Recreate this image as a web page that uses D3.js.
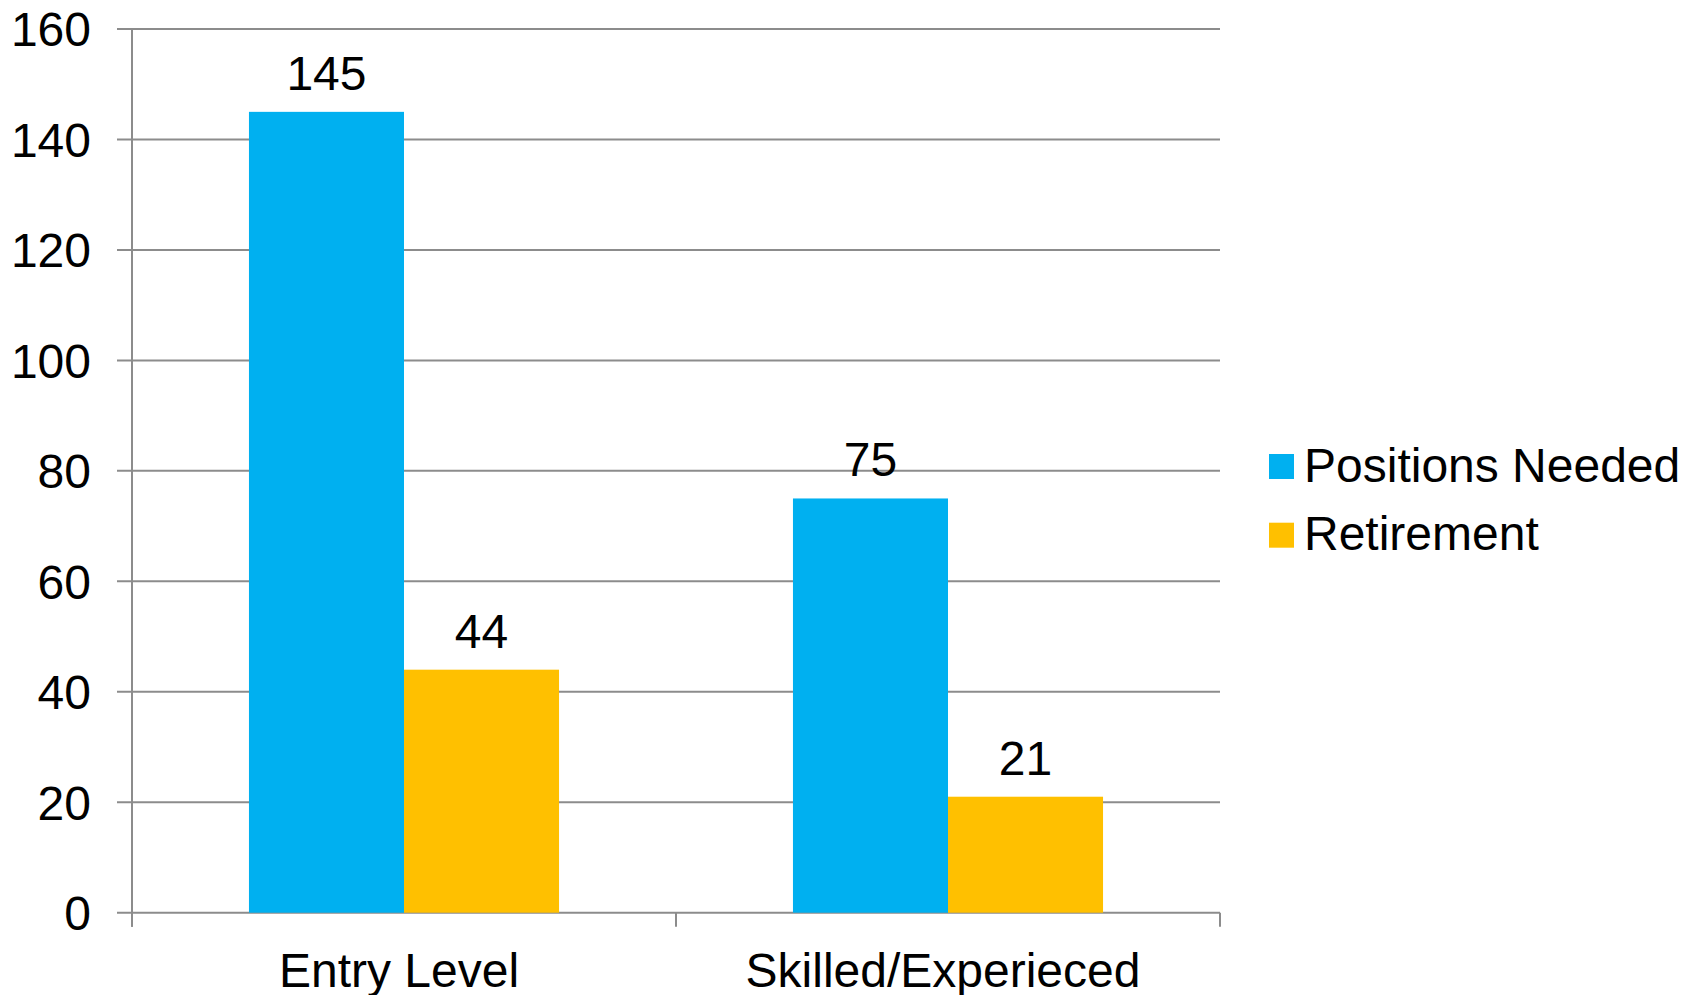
<!DOCTYPE html>
<html>
<head>
<meta charset="utf-8">
<script src="https://cdn.jsdelivr.net/npm/d3@7"></script>
<style>
  html, body { margin: 0; padding: 0; background: #fff; }
  svg { display: block; }
  text { font-family: "Liberation Sans", Arial, sans-serif; fill: #000; }
</style>
</head>
<body>
<svg id="chart" width="1696" height="995"></svg>
<script>
const categories = ["Entry Level", "Skilled/Experieced"];
const seriesNames = ["Positions Needed", "Retirement"];
const positionsNeeded = [145, 75];
const retirement = [44, 21];
const seriesColors = ["#00B0F0", "#FFC000"];
const yTicks = [0, 20, 40, 60, 80, 100, 120, 140, 160];

const seriesValues = [positionsNeeded, retirement];
const data = categories.map((c, i) => ({
  category: c,
  values: seriesNames.map((s, j) => ({ series: s, value: seriesValues[j][i], color: seriesColors[j] }))
}));

const svg = d3.select("#chart");
const plot = { left: 132, right: 1220, top: 29, bottom: 912.7 };
const gridColor = "#8c8c8c";
const fontSize = 48;

const x0 = d3.scaleBand().domain(categories).range([plot.left, plot.right])
  .paddingInner(0.43).paddingOuter(0.215);
const x1 = d3.scaleBand().domain(seriesNames).range([0, x0.bandwidth()]).padding(0);
const y = d3.scaleLinear().domain([0, 160]).range([plot.bottom, plot.top]);

// gridlines
svg.append("g").selectAll("line").data(yTicks).join("line")
  .attr("x1", plot.left - 15).attr("x2", plot.right)
  .attr("y1", d => y(d)).attr("y2", d => y(d))
  .attr("stroke", gridColor).attr("stroke-width", 2);

// y tick labels
svg.append("g").selectAll("text").data(yTicks).join("text")
  .attr("x", 91).attr("y", d => y(d)).attr("dy", "0.36em")
  .attr("text-anchor", "end").attr("font-size", fontSize)
  .text(d => d);

// bars
const groups = svg.append("g").selectAll("g").data(data).join("g")
  .attr("transform", d => `translate(${x0(d.category)},0)`);
groups.selectAll("rect").data(d => d.values).join("rect")
  .attr("x", d => x1(d.series)).attr("width", x1.bandwidth())
  .attr("y", d => y(d.value)).attr("height", d => y(0) - y(d.value))
  .attr("fill", d => d.color);
groups.selectAll("text").data(d => d.values).join("text")
  .attr("x", d => x1(d.series) + x1.bandwidth() / 2)
  .attr("y", d => y(d.value) - 22)
  .attr("text-anchor", "middle").attr("font-size", fontSize)
  .text(d => d.value);

// y axis line
svg.append("line").attr("x1", plot.left).attr("x2", plot.left)
  .attr("y1", plot.top).attr("y2", plot.bottom + 14)
  .attr("stroke", gridColor).attr("stroke-width", 2);

// x axis ticks (category boundaries)
const boundaries = [plot.left, ...categories.slice(1).map(c => x0(c) - x0.step() * x0.paddingInner() / 2), plot.right];
svg.append("g").selectAll("line").data(boundaries).join("line")
  .attr("x1", d => d).attr("x2", d => d)
  .attr("y1", plot.bottom).attr("y2", plot.bottom + 14)
  .attr("stroke", gridColor).attr("stroke-width", 2);

// category labels
svg.append("g").selectAll("text").data(categories).join("text")
  .attr("x", d => x0(d) + x0.bandwidth() / 2 - 5)
  .attr("y", 987)
  .attr("text-anchor", "middle").attr("font-size", fontSize)
  .text(d => d);

// legend
const legend = svg.append("g").attr("transform", "translate(1269,454)");
const items = legend.selectAll("g").data(seriesNames).join("g")
  .attr("transform", (d, i) => `translate(0,${i * 68.7})`);
items.append("rect").attr("width", 25).attr("height", 25)
  .attr("fill", (d, i) => seriesColors[i]);
items.append("text").attr("x", 35).attr("y", 27.7)
  .attr("font-size", fontSize).text(d => d);
</script>
</body>
</html>
